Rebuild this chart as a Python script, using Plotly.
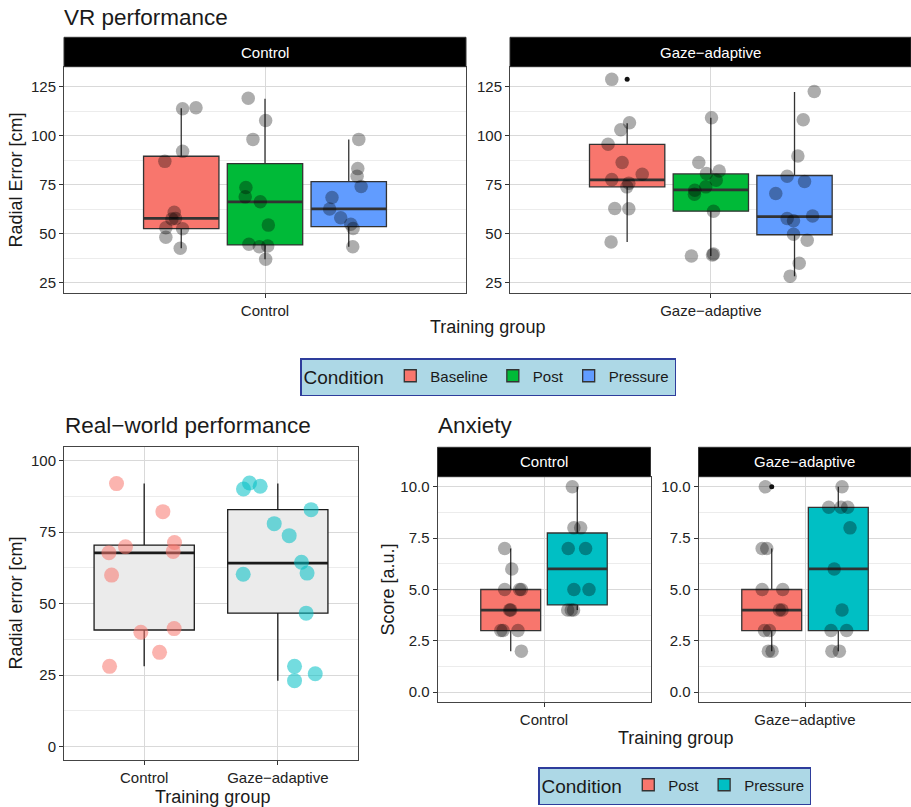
import plotly.graph_objects as go

FONT = "Liberation Sans, Arial, Helvetica, sans-serif"
W, H = 911, 807

# ---------------- data ----------------
groups = ["Control", "Gaze−adaptive"]
vr_conditions = ["Baseline", "Post", "Pressure"]
anx_conditions = ["Post", "Pressure"]

# VR performance: radial error [cm] per participant
vr_control_baseline = [113.7, 114.2, 92.0, 86.9, 60.9, 57.8, 57.5, 53.1, 52.6, 48.2, 42.6]
vr_control_post = [119.1, 107.7, 98.1, 73.6, 68.8, 66.3, 54.4, 44.6, 43.4, 43.8, 37.0]
vr_control_pressure = [98.1, 83.2, 79.3, 74.1, 68.5, 62.6, 58.2, 54.8, 52.7, 43.4]
vr_gaze_baseline = [128.7, 106.6, 103.0, 95.6, 86.3, 80.3, 77.6, 75.8, 73.9, 62.9, 62.7, 45.8]
vr_gaze_post = [109.1, 86.3, 82.0, 80.7, 77.3, 73.9, 72.2, 70.2, 61.5, 38.7, 39.7, 39.2]
vr_gaze_pressure = [122.5, 108.1, 89.6, 79.3, 76.6, 70.5, 57.8, 56.6, 59.0, 49.7, 46.7, 35.0, 28.4]

# VR box statistics (Baseline, Post, Pressure)
vr_control_q1 = [52.6, 44.3, 53.6]
vr_control_med = [57.8, 66.3, 62.7]
vr_control_q3 = [89.5, 85.7, 76.6]
vr_control_lo = [42.6, 37.0, 43.4]
vr_control_hi = [114.0, 118.8, 98.0]
vr_gaze_q1 = [73.9, 61.5, 49.5]
vr_gaze_med = [77.5, 72.4, 58.7]
vr_gaze_q3 = [95.6, 80.5, 79.7]
vr_gaze_lo = [45.8, 38.7, 28.4]
vr_gaze_hi = [106.3, 109.1, 122.3]
vr_gaze_baseline_outliers = [128.7]

# Real-world performance: radial error [cm]
rw_control = [92.0, 82.2, 71.4, 69.9, 67.8, 68.3, 60.0, 41.3, 40.0, 33.0, 28.1]
rw_gaze = [92.2, 90.1, 91.1, 82.9, 78.0, 73.8, 64.5, 60.3, 60.7, 46.7, 28.1, 25.5, 23.1]
rw_q1 = [40.8, 46.7]
rw_med = [67.8, 64.2]
rw_q3 = [70.5, 82.9]
rw_lo = [28.1, 23.1]
rw_hi = [92.0, 92.0]

# Anxiety: score [a.u.]
anx_control_post = [7, 6, 5, 5, 5, 4, 4, 3, 3, 3, 2]
anx_control_pressure = [10, 8, 8, 7, 7, 5, 5, 4, 4, 4]
anx_gaze_post = [10, 7, 7, 5, 5, 4, 4, 3, 3, 2, 2]
anx_gaze_pressure = [10, 9, 9, 9, 8, 6, 4, 3, 3, 2, 2]
anx_control_q1 = [3, 4.25]
anx_control_med = [4, 6]
anx_control_q3 = [5, 7.75]
anx_control_lo = [2, 4]
anx_control_hi = [7, 10]
anx_gaze_q1 = [3, 3]
anx_gaze_med = [4, 6]
anx_gaze_q3 = [5, 9]
anx_gaze_lo = [2, 2]
anx_gaze_hi = [7, 10]
anx_gaze_post_outliers = [10]

# ---------------- jitter offsets (x, in category units) ----------------
jit_vr_control_baseline = [0.004, 0.044, 0.004, -0.049, -0.021, -0.017, -0.028, -0.046, 0.004, -0.046, -0.003]
jit_vr_control_post = [-0.05, 0.002, -0.036, -0.057, -0.059, -0.014, 0.01, -0.048, -0.017, 0.008, 0.002]
jit_vr_control_pressure = [0.03, 0.027, 0.025, 0.037, -0.05, -0.057, -0.024, 0.006, 0.013, 0.012]
jit_vr_gaze_baseline = [-0.046, 0.007, -0.019, -0.057, -0.015, 0.045, -0.046, 0.005, -0.001, -0.037, 0.005, -0.048]
jit_vr_gaze_post = [0.002, -0.036, 0.025, -0.013, 0.016, -0.015, -0.048, -0.049, 0.008, -0.058, 0.008, 0.005]
jit_vr_gaze_pressure = [0.059, 0.026, 0.01, -0.022, 0.03, -0.056, -0.022, -0.003, 0.054, -0.003, 0.038, 0.014, -0.013]
jit_rw_control = [-0.207, 0.14, 0.227, -0.14, -0.264, 0.217, -0.244, 0.224, -0.025, 0.115, -0.259]
jit_rw_gaze = [-0.212, -0.257, -0.132, 0.249, -0.027, 0.085, 0.177, -0.259, 0.219, 0.212, 0.125, 0.28, 0.125]
jit_anx_control_post = [-0.034, 0.006, -0.034, 0.06, 0.05, 0.0, -0.006, -0.056, -0.043, 0.041, 0.06]
jit_anx_control_pressure = [-0.028, -0.019, 0.019, -0.051, 0.047, -0.019, 0.066, -0.054, -0.034, -0.021]
jit_anx_gaze_post = [-0.036, -0.054, -0.028, -0.054, 0.062, 0.043, 0.058, -0.041, -0.013, -0.019, 0.002]
jit_anx_gaze_pressure = [0.021, -0.054, 0.015, 0.053, 0.066, -0.023, 0.021, -0.041, 0.047, -0.036, 0.006]

# ---------------- styles ----------------
vr_colors = ["#F8766D", "#00BA38", "#619CFF"]
anx_colors = ["#F8766D", "#00BFC4"]
rw_point_colors = ["rgba(248,118,109,0.55)", "rgba(0,191,196,0.55)"]
GRAY_PT = "rgba(0,0,0,0.32)"
BOX_LINE = "#333333"
TXT = "#1a1a1a"


def px(x):
    return x / W


def py(y):
    return 1 - y / H


fig = go.Figure()


def add_box(xa, ya, center, width, q1, med, q3, lo, hi, fill, line, name,
            show, legend, lw=1.3, mw=2.7):
    fig.add_trace(go.Box(
        x=[center], q1=[q1], median=[med], q3=[q3], lowerfence=[lo], upperfence=[hi],
        width=width, fillcolor=fill, line=dict(color=line, width=lw), whiskerwidth=0,
        boxpoints=False, orientation="v", name=name, legendgroup=legend + name,
        showlegend=show, legend=legend, xaxis=xa, yaxis=ya, hoverinfo="skip"))
    fig.add_trace(go.Scatter(
        x=[center - width / 2, center + width / 2], y=[med, med], mode="lines",
        line=dict(color=line, width=mw), showlegend=False, xaxis=xa, yaxis=ya,
        hoverinfo="skip"))


def add_points(xa, ya, center, vals, jit, color, size):
    fig.add_trace(go.Scatter(
        x=[center + j for j in jit], y=vals, mode="markers",
        marker=dict(size=size, color=color, line=dict(width=0)),
        showlegend=False, xaxis=xa, yaxis=ya, hoverinfo="skip"))


def add_outliers(xa, ya, center, vals):
    fig.add_trace(go.Scatter(
        x=[center] * len(vals), y=vals, mode="markers",
        marker=dict(size=5, color="#111111"), showlegend=False,
        xaxis=xa, yaxis=ya, hoverinfo="skip"))


# VR panels
vr_offsets = [-0.25, 0.0, 0.25]
vr_panels = [
    ("x", "y", [vr_control_baseline, vr_control_post, vr_control_pressure],
     [jit_vr_control_baseline, jit_vr_control_post, jit_vr_control_pressure],
     vr_control_q1, vr_control_med, vr_control_q3, vr_control_lo, vr_control_hi, True),
    ("x2", "y2", [vr_gaze_baseline, vr_gaze_post, vr_gaze_pressure],
     [jit_vr_gaze_baseline, jit_vr_gaze_post, jit_vr_gaze_pressure],
     vr_gaze_q1, vr_gaze_med, vr_gaze_q3, vr_gaze_lo, vr_gaze_hi, False),
]
for xa, ya, vals, jits, q1, med, q3, lo, hi, show in vr_panels:
    for i, cond in enumerate(vr_conditions):
        add_box(xa, ya, 1 + vr_offsets[i], 0.225, q1[i], med[i], q3[i], lo[i], hi[i],
                vr_colors[i], BOX_LINE, cond, show, "legend")
    for i, cond in enumerate(vr_conditions):
        add_points(xa, ya, 1 + vr_offsets[i], vals[i], jits[i], GRAY_PT, 13.5)
add_outliers("x2", "y2", 1 + vr_offsets[0], vr_gaze_baseline_outliers)

# Real-world panel
for i, g in enumerate(groups):
    add_box("x3", "y3", i + 1, 0.75, rw_q1[i], rw_med[i], rw_q3[i], rw_lo[i], rw_hi[i],
            "#EBEBEB", "#1a1a1a", g, False, "legend", lw=1.3, mw=2.7)
add_points("x3", "y3", 1, rw_control, jit_rw_control, rw_point_colors[0], 15)
add_points("x3", "y3", 2, rw_gaze, jit_rw_gaze, rw_point_colors[1], 15)

# Anxiety panels
anx_offsets = [-0.1875, 0.1875]
anx_panels = [
    ("x4", "y4", [anx_control_post, anx_control_pressure],
     [jit_anx_control_post, jit_anx_control_pressure],
     anx_control_q1, anx_control_med, anx_control_q3, anx_control_lo, anx_control_hi, True),
    ("x5", "y5", [anx_gaze_post, anx_gaze_pressure],
     [jit_anx_gaze_post, jit_anx_gaze_pressure],
     anx_gaze_q1, anx_gaze_med, anx_gaze_q3, anx_gaze_lo, anx_gaze_hi, False),
]
for xa, ya, vals, jits, q1, med, q3, lo, hi, show in anx_panels:
    for i, cond in enumerate(anx_conditions):
        add_box(xa, ya, 1 + anx_offsets[i], 0.3375, q1[i], med[i], q3[i], lo[i], hi[i],
                anx_colors[i], BOX_LINE, cond, show, "legend2")
    for i, cond in enumerate(anx_conditions):
        add_points(xa, ya, 1 + anx_offsets[i], vals[i], jits[i], GRAY_PT, 13.5)
add_outliers("x5", "y5", 1 + anx_offsets[0], anx_gaze_post_outliers)

# ---------------- axes ----------------
tickfont = dict(family=FONT, size=15, color="#222222")


def xaxis(x0, x1, rng, tickvals, ticktext, anchor):
    return dict(domain=[px(x0), min(px(x1), 1.0)], range=rng, type="linear",
                tickmode="array", tickvals=tickvals, ticktext=ticktext,
                showgrid=True, gridcolor="#d9d9d9", gridwidth=1,
                ticks="outside", ticklen=4, tickcolor="#333333", tickwidth=1,
                showline=True, mirror=True, linecolor="#444444", linewidth=1,
                zeroline=False, tickfont=tickfont, anchor=anchor, fixedrange=True)


def yaxis(y0, y1, rng, dtick, minor, fmt, anchor):
    return dict(domain=[py(y1), py(y0)], range=rng, type="linear",
                tickmode="linear", tick0=0, dtick=dtick, tickformat=fmt,
                showgrid=True, gridcolor="#d9d9d9", gridwidth=1,
                minor=dict(tickmode="linear", tick0=0, dtick=minor, showgrid=True,
                           gridcolor="#ececec", gridwidth=0.8, ticks=""),
                ticks="outside", ticklen=4, tickcolor="#333333", tickwidth=1,
                showline=True, mirror=True, linecolor="#444444", linewidth=1,
                zeroline=False, tickfont=tickfont, anchor=anchor, fixedrange=True)


fig.update_layout(
    xaxis=xaxis(64, 466, [0.4, 1.6], [1], [groups[0]], "y"),
    yaxis=yaxis(67, 293, [19.8, 135], 25, 12.5, "d", "x"),
    xaxis2=xaxis(510, 911, [0.4, 1.598], [1], [groups[1]], "y2"),
    yaxis2=yaxis(67, 293, [19.8, 135], 25, 12.5, "d", "x2"),
    xaxis3=xaxis(64, 358, [0.4, 2.6], [1, 2], groups, "y3"),
    yaxis3=yaxis(447, 760, [-4.65, 104.8], 25, 12.5, "d", "x3"),
    xaxis4=xaxis(437.5, 650.5, [0.4, 1.6], [1], [groups[0]], "y4"),
    yaxis4=yaxis(476.7, 702.3, [-0.49, 10.49], 2.5, 1.25, ".1f", "x4"),
    xaxis5=xaxis(698.5, 911, [0.4, 1.597], [1], [groups[1]], "y5"),
    yaxis5=yaxis(476.7, 702.3, [-0.49, 10.49], 2.5, 1.25, ".1f", "x5"),
)

# ---------------- strips, titles ----------------
shapes = []
annotations = []


def strip(x0, x1, y0, y1, text):
    shapes.append(dict(type="rect", xref="paper", yref="paper",
                       x0=px(x0), x1=min(px(x1), 1.0), y0=py(y1), y1=py(y0),
                       fillcolor="black", line=dict(width=1, color="#333333"),
                       layer="above"))
    annotations.append(dict(text=text, xref="paper", yref="paper",
                            x=px((x0 + min(x1, 911)) / 2), y=py((y0 + y1) / 2),
                            showarrow=False, xanchor="center", yanchor="middle",
                            font=dict(family=FONT, size=15, color="white")))


strip(64, 466, 37.3, 66.7, groups[0])
strip(510, 911, 37.3, 66.7, groups[1])
strip(437.5, 650.5, 447.3, 476.7, groups[0])
strip(698.5, 913, 447.3, 476.7, groups[1])


def text(t, x, y, size, xanchor="center", angle=0):
    annotations.append(dict(text=t, xref="paper", yref="paper", x=px(x), y=py(y),
                            showarrow=False, xanchor=xanchor, yanchor="middle",
                            textangle=angle,
                            font=dict(family=FONT, size=size, color=TXT)))


text("VR performance", 62, 17, 22.5, "left")
text("Real−world performance", 63, 425, 22.5, "left")
text("Anxiety", 436, 425, 22.5, "left")
text("Radial Error [cm]", 15.5, 180, 18, angle=-90)
text("Training group", 487.5, 327, 18)
text("Radial error [cm]", 15.5, 603, 18, angle=-90)
text("Training group", 212, 797, 18)
text("Score [a.u.]", 387, 589.5, 18, angle=-90)
text("Training group", 675, 738, 18)

legend_style = dict(
    orientation="h", xanchor="center", yanchor="top",
    bgcolor="#ADD8E6", bordercolor="#2e3d9c", borderwidth=1.5,
    title=dict(text="Condition", side="left",
               font=dict(family=FONT, size=19, color=TXT)),
    font=dict(family=FONT, size=15, color=TXT),
    itemclick=False, itemdoubleclick=False,
)

fig.update_layout(
    width=W, height=H,
    margin=dict(l=0, r=0, t=0, b=0),
    paper_bgcolor="white", plot_bgcolor="white",
    boxmode="overlay",
    showlegend=True,
    legend=dict(x=px(488), y=py(358), **legend_style),
    legend2=dict(x=px(674.5), y=py(767), **legend_style),
    shapes=shapes, annotations=annotations,
    font=dict(family=FONT, color=TXT),
)

fig.write_html(
    "out.html",
    config={"displayModeBar": False},
    post_script="document.body.style.margin='0';document.body.style.padding='0';"
                "document.body.style.overflow='hidden';",
)
